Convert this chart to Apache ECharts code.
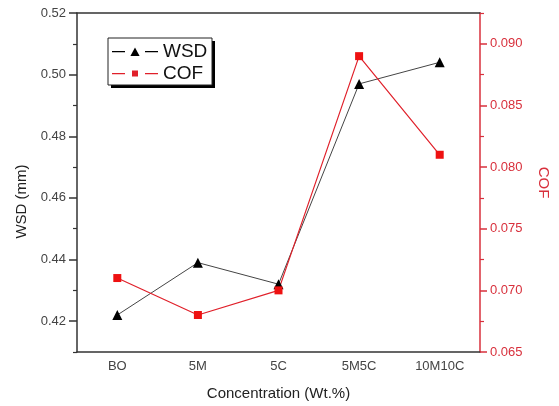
<!DOCTYPE html>
<html><head><meta charset="utf-8">
<script src="https://cdn.jsdelivr.net/npm/echarts@6/dist/echarts.min.js"></script>
<style>html,body{margin:0;padding:0;background:#fff}#c{width:559px;height:406px}</style>
</head><body><div id="c"></div>
<script>
const categories = ['BO', '5M', '5C', '5M5C', '10M10C'];
const wsdValues = [0.422, 0.439, 0.432, 0.497, 0.504];
const cofValues = [0.071, 0.068, 0.070, 0.089, 0.081];
const wsdTicks = [0.42, 0.44, 0.46, 0.48, 0.50, 0.52];
const wsdMinorTicks = [0.41, 0.43, 0.45, 0.47, 0.49, 0.51];
const cofTicks = [0.065, 0.070, 0.075, 0.080, 0.085, 0.090];
const cofMinorTicks = [0.0675, 0.0725, 0.0775, 0.0825, 0.0875, 0.0925];

const FONT = 'Liberation Sans, Arial, sans-serif';
const RED = '#e0202a';
const AXRED = '#d8303c';
const ICON_TRI = 'path://M0,0M46,9M0,4h13v1.3H0z M23,0.5l4.6,8.5h-9.2z M33,4h13v1.3H33z';
const ICON_SQ = 'path://M0,0M46,9M0,4h13v1.3H0z M20,1.5h6v6h-6z M33,4h13v1.3H33z';
const chart = echarts.init(document.getElementById('c'));
const baseX = { type: 'category', data: categories, boundaryGap: true };
chart.setOption({
  animation: false,
  grid: { left: 77, right: 74, top: 13, bottom: 53 },
  graphic: [
    { type: 'rect', z: 5, shape: { x: 111, y: 41, width: 104, height: 47 }, style: { fill: '#000' } },
    { type: 'rect', z: 6, shape: { x: 108, y: 38, width: 104, height: 47 }, style: { fill: '#fff', stroke: '#222', lineWidth: 1 } }
  ],
  legend: {
    left: 108, top: 38, orient: 'vertical', z: 10,
    data: [
      { name: 'WSD', icon: ICON_TRI, itemStyle: { color: '#000', borderWidth: 0 } },
      { name: 'COF', icon: ICON_SQ, itemStyle: { color: RED, borderWidth: 0 } }
    ],
    padding: [4, 6, 3, 4], itemGap: 3, itemWidth: 46, itemHeight: 9,
    textStyle: { fontFamily: FONT, fontSize: 19, color: '#111' }
  },
  xAxis: [
    Object.assign({}, baseX, {
      position: 'bottom', name: 'Concentration (Wt.%)', nameLocation: 'middle', nameGap: 34,
      nameTextStyle: { fontFamily: FONT, fontSize: 15, color: '#222' },
      axisLine: { lineStyle: { color: '#333', width: 1.5 } },
      axisTick: { alignWithLabel: true, length: 6, lineStyle: { color: '#333', width: 1.5 } },
      axisLabel: { fontFamily: FONT, fontSize: 13, color: '#444', margin: 8 }
    }),
    Object.assign({}, baseX, {
      position: 'bottom', axisLine: { show: false },
      axisTick: { length: 4, lineStyle: { color: '#333', width: 1.2 } },
      axisLabel: { show: false }
    }),
    Object.assign({}, baseX, {
      position: 'top', axisLine: { lineStyle: { color: '#333', width: 1.5 } },
      axisTick: { alignWithLabel: true, inside: true, length: 6, lineStyle: { color: '#333', width: 1.5 } },
      axisLabel: { show: false }
    }),
    Object.assign({}, baseX, {
      position: 'top', axisLine: { show: false },
      axisTick: { inside: true, length: 4, lineStyle: { color: '#333', width: 1.2 } },
      axisLabel: { show: false }
    })
  ],
  yAxis: [
    {
      type: 'value', position: 'left', min: 0.41, max: 0.52,
      name: 'WSD (mm)', nameLocation: 'middle', nameGap: 47,
      nameTextStyle: { fontFamily: FONT, fontSize: 15, color: '#222', padding: [0, 38, 0, 0] },
      splitLine: { show: false },
      axisLine: { show: true, lineStyle: { color: '#333', width: 1.5 } },
      axisTick: { show: true, length: 8, customValues: wsdTicks, lineStyle: { color: '#333', width: 1.5 } },
      axisLabel: { customValues: wsdTicks, fontFamily: FONT, fontSize: 13, color: '#444', margin: 11,
        formatter: v => v.toFixed(2) }
    },
    {
      type: 'value', position: 'right', min: 0.065, max: 0.0925,
      name: 'COF', nameLocation: 'middle', nameGap: 56, nameRotate: -90,
      nameTextStyle: { fontFamily: FONT, fontSize: 15, color: AXRED },
      splitLine: { show: false },
      axisLine: { show: true, lineStyle: { color: AXRED, width: 1.5 } },
      axisTick: { show: true, length: 7, customValues: cofTicks, lineStyle: { color: AXRED, width: 1.5 } },
      axisLabel: { customValues: cofTicks, fontFamily: FONT, fontSize: 13, color: AXRED, margin: 10,
        formatter: v => v.toFixed(3) }
    },
    {
      type: 'value', position: 'left', min: 0.41, max: 0.52,
      splitLine: { show: false }, axisLine: { show: false }, axisLabel: { show: false },
      axisTick: { show: true, length: 4, customValues: wsdMinorTicks, lineStyle: { color: '#333', width: 1.2 } }
    },
    {
      type: 'value', position: 'right', min: 0.065, max: 0.0925,
      splitLine: { show: false }, axisLine: { show: false }, axisLabel: { show: false },
      axisTick: { show: true, length: 4, customValues: cofMinorTicks, lineStyle: { color: AXRED, width: 1.2 } }
    }
  ],
  series: [
    {
      name: 'WSD', type: 'line', xAxisIndex: 0, yAxisIndex: 0, data: wsdValues,
      symbol: 'triangle', symbolSize: 10,
      lineStyle: { color: '#444', width: 1 },
      itemStyle: { color: '#000' }
    },
    {
      name: 'COF', type: 'line', xAxisIndex: 0, yAxisIndex: 1, data: cofValues,
      symbol: 'rect', symbolSize: 8,
      lineStyle: { color: RED, width: 1.2 },
      itemStyle: { color: '#ee1111' }
    }
  ]
});
</script></body></html>
